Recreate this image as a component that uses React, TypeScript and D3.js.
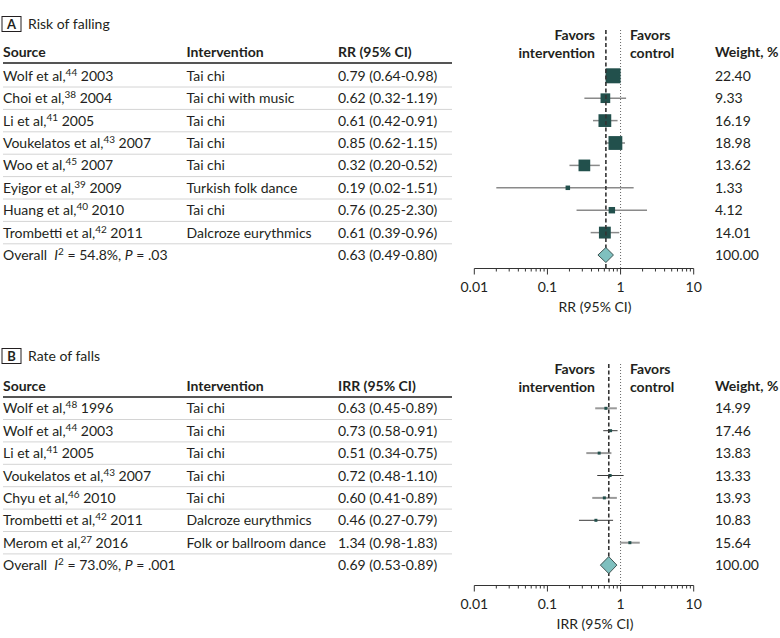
import React from "react";
import * as d3 from "d3";

// ---------- Panel A: Risk of falling ----------
const authorsA = ["Wolf et al,", "Choi et al,", "Li et al,", "Voukelatos et al,", "Woo et al,", "Eyigor et al,", "Huang et al,", "Trombetti et al,"];
const refsA = ["44", "38", "41", "43", "45", "39", "40", "42"];
const yearsA = ["2003", "2004", "2005", "2007", "2007", "2009", "2010", "2011"];
const interventionsA = ["Tai chi", "Tai chi with music", "Tai chi", "Tai chi", "Tai chi", "Turkish folk dance", "Tai chi", "Dalcroze eurythmics"];
const estA = [0.79, 0.62, 0.61, 0.85, 0.32, 0.19, 0.76, 0.61];
const loA = [0.64, 0.32, 0.42, 0.62, 0.2, 0.02, 0.25, 0.39];
const hiA = [0.98, 1.19, 0.91, 1.15, 0.52, 1.51, 2.3, 0.96];
const weightA = [22.4, 9.33, 16.19, 18.98, 13.62, 1.33, 4.12, 14.01];
const overallA = { est: 0.63, lo: 0.49, hi: 0.8, i2: "54.8%", p: ".03" };

// ---------- Panel B: Rate of falls ----------
const authorsB = ["Wolf et al,", "Wolf et al,", "Li et al,", "Voukelatos et al,", "Chyu et al,", "Trombetti et al,", "Merom et al,"];
const refsB = ["48", "44", "41", "43", "46", "42", "27"];
const yearsB = ["1996", "2003", "2005", "2007", "2010", "2011", "2016"];
const interventionsB = ["Tai chi", "Tai chi", "Tai chi", "Tai chi", "Tai chi", "Dalcroze eurythmics", "Folk or ballroom dance"];
const estB = [0.63, 0.73, 0.51, 0.72, 0.6, 0.46, 1.34];
const loB = [0.45, 0.58, 0.34, 0.48, 0.41, 0.27, 0.98];
const hiB = [0.89, 0.91, 0.75, 1.1, 0.89, 0.79, 1.83];
const weightB = [14.99, 17.46, 13.83, 13.33, 13.93, 10.83, 15.64];
const overallB = { est: 0.69, lo: 0.53, hi: 0.89, i2: "73.0%", p: ".001" };

const tickValues = [0.01, 0.1, 1, 10];
const tickLabels = ["0.01", "0.1", "1", "10"];

const FONT = "Lato, 'Open Sans', sans-serif";
const TEXT = "#231f20";
const SQUARE = "#22504c";
const DIAMOND = "#7fc0bf";

const x = d3.scaleLog().domain([0.01, 10]).range([474.3, 693.7]);
const minorTicks: number[] = [];
[0.01, 0.1, 1].forEach((d) => {
  for (let k = 2; k <= 9; k++) minorTicks.push(d * k);
});

const COL_SRC = 3;
const COL_INT = 186.5;
const COL_EST = 338;
const COL_W = 715;
const PITCH = 22.4;
const f2 = (v: number) => v.toFixed(2);

type PanelProps = {
  letter: string;
  title: string;
  measure: string;
  top: number;
  headerY: number;
  firstRow: number;
  axisY: number;
  authors: string[];
  refs: string[];
  years: string[];
  interventions: string[];
  est: number[];
  lo: number[];
  hi: number[];
  weight: number[];
  overall: { est: number; lo: number; hi: number; i2: string; p: string };
  squares: boolean;
  diamondH: number;
};

function Panel(p: PanelProps) {
  const n = p.authors.length;
  const rowY = (i: number) => p.firstRow + i * PITCH;
  const overallY = rowY(n);
  const fav1 = p.headerY - 17;
  const fav2 = p.headerY + 1;
  const lineTop = fav1 - 5;
  return (
    <g fontFamily={FONT} fill={TEXT}>
      <rect x={2} y={p.top - 7.5} width={19} height={15} fill="none" stroke={TEXT} strokeWidth={1} />
      <text x={11.5} y={p.top + 5} fontSize={13} fontWeight="bold" textAnchor="middle">{p.letter}</text>
      <text x={28} y={p.top + 5} fontSize={14}>{p.title}</text>

      <text x={COL_SRC} y={p.headerY + 5} fontSize={14} fontWeight="bold">Source</text>
      <text x={COL_INT} y={p.headerY + 5} fontSize={14} fontWeight="bold">Intervention</text>
      <text x={COL_EST} y={p.headerY + 5} fontSize={14} fontWeight="bold">{p.measure} (95% CI)</text>
      <text x={COL_W} y={p.headerY + 5} fontSize={14} fontWeight="bold">Weight, %</text>
      <text x={595} y={fav1 + 5} fontSize={14} fontWeight="bold" textAnchor="end">Favors</text>
      <text x={595} y={fav2 + 5} fontSize={14} fontWeight="bold" textAnchor="end">intervention</text>
      <text x={630} y={fav1 + 5} fontSize={14} fontWeight="bold">Favors</text>
      <text x={630} y={fav2 + 5} fontSize={14} fontWeight="bold">control</text>
      <line x1={3} x2={452} y1={p.headerY + 11} y2={p.headerY + 11} stroke="#555" strokeWidth={2} />

      {d3.range(n).map((i) => (
        <line key={"s" + i} x1={3} x2={452} y1={rowY(i) + PITCH / 2} y2={rowY(i) + PITCH / 2} stroke="#d4d4d4" strokeWidth={1} />
      ))}

      {d3.range(n).map((i) => (
        <g key={"r" + i}>
          <text x={COL_SRC} y={rowY(i) + 5} fontSize={14}>
            {p.authors[i]}
            <tspan fontSize={10} dy={-5}>{p.refs[i]}</tspan>
            <tspan dy={5}>{" " + p.years[i]}</tspan>
          </text>
          <text x={COL_INT} y={rowY(i) + 5} fontSize={14}>{p.interventions[i]}</text>
          <text x={COL_EST} y={rowY(i) + 5} fontSize={14}>{`${f2(p.est[i])} (${f2(p.lo[i])}-${f2(p.hi[i])})`}</text>
          <text x={COL_W} y={rowY(i) + 5} fontSize={14}>{f2(p.weight[i])}</text>
        </g>
      ))}
      <text x={COL_SRC} y={overallY + 5} fontSize={14} style={{ whiteSpace: "pre" }}>
        {"Overall  "}
        <tspan fontStyle="italic">I</tspan>
        <tspan fontSize={10} dy={-5}>2</tspan>
        <tspan dy={5}>{" = " + p.overall.i2 + ", "}</tspan>
        <tspan fontStyle="italic">P</tspan>
        <tspan>{" = " + p.overall.p}</tspan>
      </text>
      <text x={COL_EST} y={overallY + 5} fontSize={14}>{`${f2(p.overall.est)} (${f2(p.overall.lo)}-${f2(p.overall.hi)})`}</text>
      <text x={COL_W} y={overallY + 5} fontSize={14}>100.00</text>

      <line x1={x(1)} x2={x(1)} y1={lineTop} y2={p.axisY} stroke="#666" strokeWidth={1} strokeDasharray="1,2" />

      {d3.range(n).map((i) => {
        const s = Math.max(4.5, 3.17 * Math.sqrt(p.weight[i]));
        const cy = rowY(i);
        return (
          <g key={"m" + i}>
            <line x1={x(p.lo[i])} x2={x(p.hi[i])} y1={cy} y2={cy}
              stroke={p.squares ? "#8a8a8a" : i % 2 === 0 ? "#9a9a9a" : "#3a3a3a"}
              strokeWidth={p.squares ? 1.5 : i % 2 === 0 ? 2 : 1} />
            {p.squares ? (
              <rect x={x(p.est[i]) - s / 2} y={cy - s / 2} width={s} height={s} fill={SQUARE} />
            ) : (
              <rect x={x(p.est[i]) - 1.5} y={cy - 1.5} width={3} height={3} fill={SQUARE} />
            )}
          </g>
        );
      })}
      <line x1={x(p.overall.est)} x2={x(p.overall.est)} y1={lineTop} y2={p.axisY} stroke="#333" strokeWidth={1.6} strokeDasharray="4,2.5" />
      <path
        d={`M${x(p.overall.lo)},${overallY} L${x(p.overall.est)},${overallY - p.diamondH / 2} L${x(p.overall.hi)},${overallY} L${x(p.overall.est)},${overallY + p.diamondH / 2} Z`}
        fill={DIAMOND} stroke="#3f5553" strokeWidth={1} />

      <line x1={x(0.01)} x2={x(10)} y1={p.axisY} y2={p.axisY} stroke="#333" strokeWidth={1} />
      {tickValues.map((v) => (
        <line key={"t" + v} x1={x(v)} x2={x(v)} y1={p.axisY} y2={p.axisY + 6} stroke="#333" strokeWidth={1} />
      ))}
      {minorTicks.map((v, i) => (
        <line key={"mt" + i} x1={x(v)} x2={x(v)} y1={p.axisY} y2={p.axisY + 3} stroke="#333" strokeWidth={1} />
      ))}
      {tickValues.map((v, i) => (
        <text key={"tl" + v} x={x(v)} y={p.axisY + 23} fontSize={14} textAnchor="middle">{tickLabels[i]}</text>
      ))}
      <text x={595} y={p.axisY + 43} fontSize={14} textAnchor="middle">{p.measure} (95% CI)</text>
    </g>
  );
}

export default function App() {
  return (
    <svg width={780} height={638} viewBox="0 0 780 638"
      style={{ position: "absolute", left: 0, top: 0, background: "#fff" }}>
      <rect width={780} height={638} fill="#fff" />
      <Panel letter="A" title="Risk of falling" measure="RR" top={24} headerY={52} firstRow={75.8} axisY={268.5}
        authors={authorsA} refs={refsA} years={yearsA} interventions={interventionsA}
        est={estA} lo={loA} hi={hiA} weight={weightA} overall={overallA} squares={true} diamondH={15} />
      <Panel letter="B" title="Rate of falls" measure="IRR" top={356} headerY={386} firstRow={408.3} axisY={585.5}
        authors={authorsB} refs={refsB} years={yearsB} interventions={interventionsB}
        est={estB} lo={loB} hi={hiB} weight={weightB} overall={overallB} squares={false} diamondH={17} />
    </svg>
  );
}
